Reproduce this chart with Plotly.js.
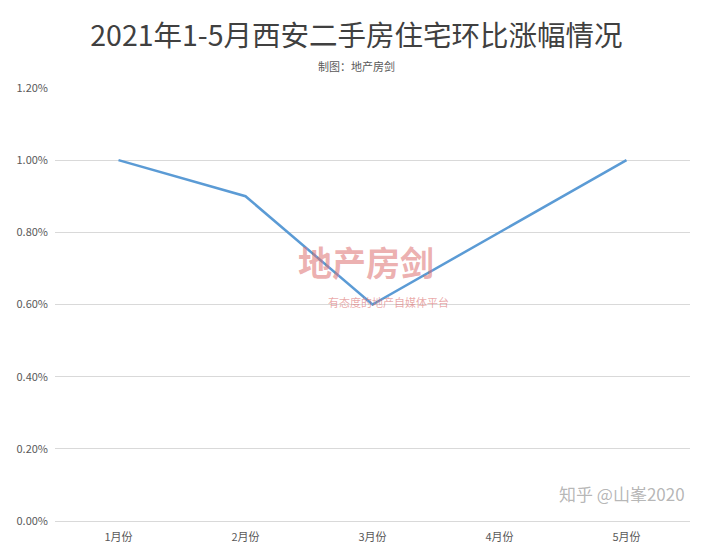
<!DOCTYPE html>
<html><head><meta charset="utf-8">
<script src="https://cdn.plot.ly/plotly-3.0.1.min.js"></script>
<style>html,body{margin:0;padding:0;background:#fff;}#chart{width:720px;height:553px;}</style>
</head><body><div id="chart"></div>
<script>
const months = ['1月份','2月份','3月份','4月份','5月份'];
const changePct = [1.00, 0.90, 0.60, 0.80, 1.00];
const yTicks = [0, 0.2, 0.4, 0.6, 0.8, 1.0, 1.2];
const yTickText = yTicks.map(v => v.toFixed(2) + '%');

const font = '"Noto Sans CJK SC", "Noto Sans", sans-serif';
Plotly.newPlot('chart', [{
  x: months, y: changePct, type: 'scatter', mode: 'lines',
  line: {color: '#5B9BD5', width: 2.5}, hoverinfo: 'x+y'
}], {
  width: 720, height: 553,
  margin: {l: 55, r: 30, t: 88, b: 32},
  paper_bgcolor: '#fff', plot_bgcolor: '#fff',
  title: {text: '2021年1-5月西安二手房住宅环比涨幅情况', x: 0.495, xanchor: 'center', y: 0.935, yanchor: 'middle',
          font: {family: font, size: 28.5, color: '#404040'}},
  showlegend: false,
  xaxis: {type: 'category', range: [-0.5, 4.5], showgrid: false, showline: true, linecolor: '#d9d9d9', linewidth: 1,
          ticks: '', ticklabelstandoff: 6, tickfont: {family: font, size: 11, color: '#595959'}, fixedrange: true},
  yaxis: {range: [0, 1.2], tickmode: 'array', tickvals: yTicks, ticktext: yTickText, showgrid: true,
          gridcolor: '#d9d9d9', gridwidth: 1, zeroline: false, showline: false, ticks: '',
          ticklabelstandoff: 6,
          tickfont: {family: font, size: 11, color: '#595959'}, fixedrange: true},
  annotations: [
    {text: '制图：地产房剑', xref: 'paper', yref: 'paper', x: 0.475, y: 1.075, showarrow: false,
     font: {family: font, size: 11, color: '#595959'}},
    {text: '<b>地产房剑</b>', xref: 'paper', yref: 'paper', x: 0.49, y: 0.6, showarrow: false,
     font: {family: font, size: 34, color: 'rgba(220,110,110,0.55)'}},
    {text: '有态度的地产自媒体平台', xref: 'paper', yref: 'paper', x: 0.525, y: 0.505, showarrow: false,
     font: {family: font, size: 11, color: 'rgba(220,110,110,0.6)'}},
    {text: '知乎 @山峯2020', xref: 'paper', yref: 'paper', x: 0.995, y: 0.03, xanchor: 'right', showarrow: false,
     font: {family: font, size: 17, color: 'rgba(120,120,120,0.55)'}}
  ]
}, {displayModeBar: false, staticPlot: true});
</script></body></html>
